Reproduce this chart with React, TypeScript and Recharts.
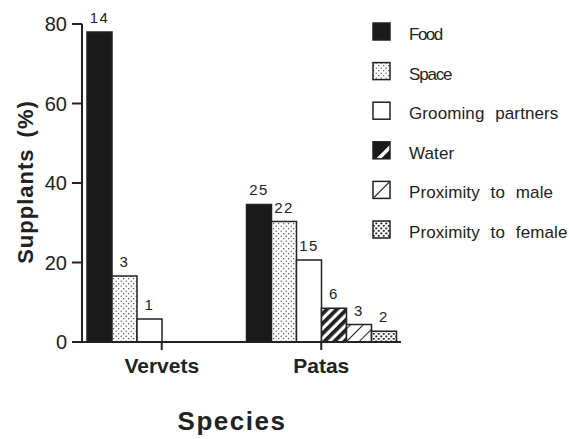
import { Bar, BarChart, Label, LabelList, Legend, XAxis, YAxis } from "recharts";

// Supplants by resource, per species (%)
const species = ["Vervets", "Patas"];
const food = [78, 34.6];
const space = [16.6, 30.3];
const grooming = [5.8, 20.6];
const water = [0, 8.5];
const proxMale = [0, 4.4];
const proxFemale = [0, 2.7];

// counts printed above the bars
const foodN = [14, 25];
const spaceN = [3, 22];
const groomingN = [1, 15];
const waterN = [null, 6];
const proxMaleN = [null, 3];
const proxFemaleN = [null, 2];

const yTicks = [0, 20, 40, 60, 80];
const seriesNames = ["Food", "Space", "Grooming partners", "Water", "Proximity to male", "Proximity to female"];

const data = species.map((s, i) => ({
  species: s,
  food: food[i],
  foodN: foodN[i],
  space: space[i],
  spaceN: spaceN[i],
  grooming: grooming[i],
  groomingN: groomingN[i],
  water: water[i],
  waterN: waterN[i],
  proxMale: proxMale[i],
  proxMaleN: proxMaleN[i],
  proxFemale: proxFemale[i],
  proxFemaleN: proxFemaleN[i],
}));

const INK = "#222";
const FONT = "'Liberation Sans', Arial, Helvetica, sans-serif";

const Patterns = ({ p }: { p: string }) => (
  <defs>
    <pattern id={`${p}space`} width="5" height="5" patternUnits="userSpaceOnUse">
      <rect width="5" height="5" fill="#fff" />
      <circle cx="1.2" cy="1.2" r="0.6" fill={INK} />
      <circle cx="3.7" cy="3.7" r="0.6" fill={INK} />
    </pattern>
    <pattern id={`${p}water`} width="7" height="7" patternUnits="userSpaceOnUse" patternTransform="rotate(45)">
      <rect width="7" height="7" fill="#fff" />
      <rect width="3.8" height="7" fill={INK} />
    </pattern>
    <pattern id={`${p}male`} width="9" height="9" patternUnits="userSpaceOnUse" patternTransform="rotate(45)">
      <rect width="9" height="9" fill="#fff" />
      <rect width="1" height="9" fill={INK} />
    </pattern>
    <pattern id={`${p}female`} width="5" height="5" patternUnits="userSpaceOnUse">
      <rect width="5" height="5" fill="#fff" />
      <rect x="0.3" y="0.5" width="2" height="1.8" fill={INK} />
      <rect x="2.8" y="3" width="1.9" height="1.7" fill={INK} />
    </pattern>
  </defs>
);

const series = [
  { key: "food", fill: "#1a1a1a" },
  { key: "space", fill: "url(#space)" },
  { key: "grooming", fill: "#fff" },
  { key: "water", fill: "url(#water)" },
  { key: "proxMale", fill: "url(#male)" },
  { key: "proxFemale", fill: "url(#female)" },
];

const legendText: Record<string, { letterSpacing?: number }> = {
  Food: { letterSpacing: -1.5 },
  Space: { letterSpacing: -1.2 },
};

const LegendBox = () => (
  <svg width={204} height={240} style={{ display: "block" }}>
    <Patterns p="lg-" />
    {seriesNames.map((name, i) => {
      const top = 11 + i * 39.6;
      const x = 8;
      const s = 17;
      let icon;
      if (i === 3) {
        icon = (
          <g>
            <rect x={x} y={top} width={s} height={s} fill="#1a1a1a" />
            <polygon points={`${x + 3},${top + s} ${x + s},${top + 3} ${x + s},${top + 8} ${x + 8},${top + s}`} fill="#fff" />
            <rect x={x} y={top} width={s} height={s} fill="none" stroke={INK} strokeWidth={1.5} />
          </g>
        );
      } else if (i === 4) {
        icon = (
          <g>
            <rect x={x} y={top} width={s} height={s} fill="#fff" stroke={INK} strokeWidth={1.5} />
            <line x1={x + 1} y1={top + s - 1} x2={x + s - 1} y2={top + 1} stroke={INK} strokeWidth={1.2} />
          </g>
        );
      } else {
        const fill = ["#1a1a1a", "url(#lg-space)", "#fff", "", "", "url(#lg-female)"][i];
        icon = <rect x={x} y={top} width={s} height={s} fill={fill} stroke={INK} strokeWidth={1.5} />;
      }
      return (
        <g key={name}>
          {icon}
          <text
            x={44}
            y={top + s}
            fontSize={17}
            fontFamily={FONT}
            fill={INK}
            wordSpacing={6}
            letterSpacing={0.1}
            {...legendText[name]}
          >
            {name}
          </text>
        </g>
      );
    })}
  </svg>
);

const App = () => {
  return (
    <div style={{ position: "absolute", left: 0, top: 0, background: "#fff" }}>
      <BarChart
        width={569}
        height={439}
        data={data}
        margin={{ top: 24, right: 168, left: 0, bottom: 0 }}
        barCategoryGap={5}
        barGap={0}
        style={{ fontFamily: FONT }}
      >
        <Patterns p="" />
        <XAxis
          dataKey="species"
          height={97}
          tickSize={8}
          tickMargin={8}
          axisLine={{ stroke: INK, strokeWidth: 2 }}
          tickLine={{ stroke: INK, strokeWidth: 2 }}
          tick={{ fill: INK, fontSize: 21, fontWeight: 700 }}
        >
          <Label
            content={() => (
              <text x={232} y={430} textAnchor="middle" fontSize={26} fontWeight={700} letterSpacing={1.5} fill={INK} fontFamily={FONT}>
                Species
              </text>
            )}
          />
        </XAxis>
        <YAxis
          width={82}
          domain={[0, 80]}
          ticks={yTicks}
          tickSize={10}
          tickMargin={5}
          axisLine={{ stroke: INK, strokeWidth: 2 }}
          tickLine={{ stroke: INK, strokeWidth: 2 }}
          tick={{ fill: INK, fontSize: 20 }}
        >
          <Label
            content={() => (
              <text
                x={25}
                y={182}
                transform="rotate(-90 25 182)"
                textAnchor="middle"
                dominantBaseline="central"
                fontSize={22}
                fontWeight={700}
                letterSpacing={1}
                wordSpacing={4}
                fill={INK}
                fontFamily={FONT}
              >
                Supplants (%)
              </text>
            )}
          />
        </YAxis>
        <Legend
          layout="horizontal"
          verticalAlign="middle"
          align="center"
          wrapperStyle={{ left: 365, top: 12, width: 204, height: 240 }}
          content={() => <LegendBox />}
        />
        {series.map((s) => (
          <Bar
            key={s.key}
            dataKey={s.key}
            name={s.key}
            barSize={25}
            fill={s.fill}
            stroke={INK}
            strokeWidth={1.5}
            isAnimationActive={false}
          >
            <LabelList dataKey={`${s.key}N`} position="top" offset={9} fill={INK} fontSize={15} letterSpacing={1.5} />
          </Bar>
        ))}
      </BarChart>
    </div>
  );
};

export default App;
